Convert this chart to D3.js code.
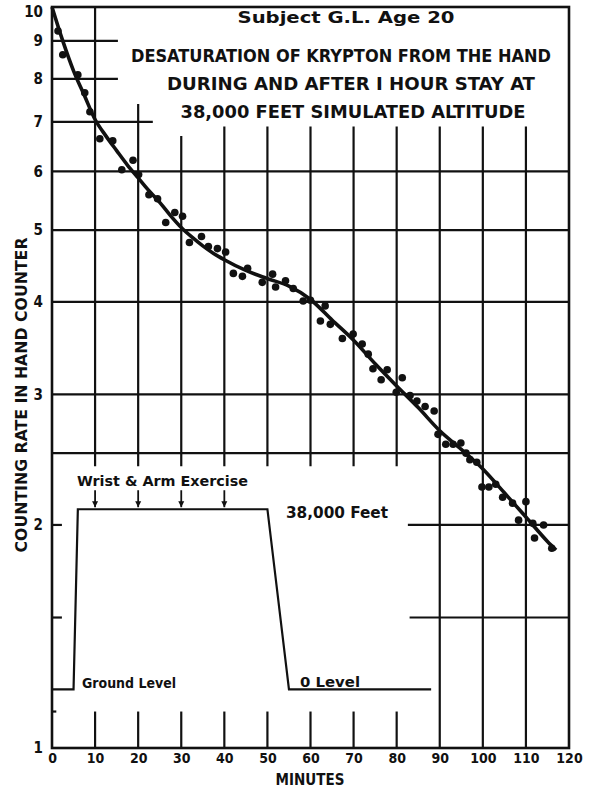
<!DOCTYPE html>
<html>
<head>
<meta charset="utf-8">
<script src="https://d3js.org/d3.v7.min.js"></script>
<style>
    body { margin: 0; background: #fff; }
    text { font-family: "DejaVu Sans Condensed", "Liberation Sans Narrow", "DejaVu Sans", sans-serif; font-weight: bold; fill: #111; }
</style>
</head>
<body>
<svg id="grafico"></svg>
<script>
// puntos medidos (minutos, cuentas)
const minutos = [1.4, 2.5, 6.0, 7.6, 8.8, 11.1, 14.1, 16.2, 18.8, 20.1, 22.5, 24.5, 26.4, 28.5, 30.3,
    31.9, 34.7, 36.3, 38.4, 40.3, 42.1, 44.2, 45.4, 48.8, 51.2, 51.9, 54.2, 56.0, 58.3, 60.0,
    62.3, 63.4, 64.6, 67.4, 69.9, 72.0, 73.4, 74.5, 76.4, 77.8, 79.9, 81.3, 83.1, 84.7, 86.6,
    88.7, 89.6, 91.4, 93.1, 94.9, 96.1, 97.0, 98.6, 99.8, 101.4, 103.0, 104.6, 106.9, 108.3,
    110.0, 111.6, 112.0, 114.1, 116.0];
const cuentas = [9.28, 8.62, 8.10, 7.66, 7.22, 6.64, 6.60, 6.03, 6.21, 5.94, 5.58, 5.51, 5.12, 5.28, 5.22,
    4.81, 4.90, 4.75, 4.72, 4.67, 4.37, 4.33, 4.44, 4.25, 4.36, 4.19, 4.27, 4.17, 4.01, 4.02,
    3.77, 3.95, 3.73, 3.57, 3.62, 3.51, 3.40, 3.25, 3.14, 3.24, 3.02, 3.16, 2.99, 2.94, 2.89,
    2.85, 2.65, 2.57, 2.57, 2.58, 2.50, 2.45, 2.43, 2.25, 2.25, 2.27, 2.18, 2.14, 2.03,
    2.15, 2.01, 1.92, 2.00, 1.86];

// curva ajustada
const curvaMin = [0, 2.5, 5, 7.5, 10, 12.5, 15, 17.5, 20, 22.5, 25, 27.5, 30, 32.5, 35, 37.5, 40, 45, 50, 55, 60,
    65, 70, 75, 80, 85, 90, 95, 100, 105, 110, 115, 117];
const curvaVal = [10, 9.0, 8.2, 7.6, 7.05, 6.7, 6.4, 6.12, 5.88, 5.65, 5.45, 5.23, 5.04, 4.89, 4.76, 4.65, 4.56, 4.41, 4.30, 4.20, 4.03,
    3.78, 3.55, 3.30, 3.08, 2.88, 2.68, 2.53, 2.38, 2.21, 2.05, 1.90, 1.85];

// perfil de altitud (esquema)
const perfilMin = [0, 5, 6, 50, 55, 88];
const perfilVal = [1.2, 1.2, 2.1, 2.1, 1.2, 1.2];
const ejercicioMin = [10, 20, 30, 40];

const xTicks = [0, 10, 20, 30, 40, 50, 60, 70, 80, 90, 100, 110, 120];
const yTicks = [1, 2, 3, 4, 5, 6, 7, 8, 9, 10];

// rejilla: lineas horizontales [valor, desde, hasta]
const rejillaH = [[9, 0, 15.3], [8, 0, 15.3], [7, 0, 23.4], [6, 0, 120], [5, 0, 120], [4, 0, 120],
    [3, 0, 120], [2.5, 0, 120], [2, 0, 2.3], [2, 82.6, 120], [1.5, 0, 2.3], [1.5, 83, 120], [1.12, 0, 1]];
// rejilla: lineas verticales [minuto, desde, hasta]
const rejillaV = [[10, 10, 2.4], [20, 7.4, 2.4], [30, 6.7, 2.4], [40, 6.9, 2.4], [50, 6.9, 2.4],
    [60, 6.9, 2.4], [70, 6.9, 2.4], [80, 6.9, 2.4], [90, 6.9, 1], [100, 6.9, 1], [110, 6.9, 1],
    [10, 1.12, 1], [20, 1.12, 1], [30, 1.12, 1], [40, 1.12, 1], [50, 1.12, 1], [60, 1.12, 1],
    [70, 1.12, 1], [80, 1.12, 1]];

const ancho = 589;
const alto = 788;

const svg = d3.select('#grafico').attr('width', ancho).attr('height', alto);

svg.append('rect').attr('width', ancho).attr('height', alto).attr('fill', '#fff');

const miEscalaX = d3.scaleLinear().domain([0, 120]).range([52, 569]);
const miEscalaY = d3.scaleLog().domain([1, 10]).range([748, 7]);

// rejilla
svg.append('g').selectAll('line')
    .data(rejillaH).enter()
    .append('line')
    .attr('x1', d => miEscalaX(d[1]))
    .attr('x2', d => miEscalaX(d[2]))
    .attr('y1', d => miEscalaY(d[0]))
    .attr('y2', d => miEscalaY(d[0]))
    .attr('stroke', '#111')
    .attr('stroke-width', 2.2);

svg.append('g').selectAll('line')
    .data(rejillaV).enter()
    .append('line')
    .attr('x1', d => miEscalaX(d[0]))
    .attr('x2', d => miEscalaX(d[0]))
    .attr('y1', d => miEscalaY(d[1]))
    .attr('y2', d => miEscalaY(d[2]))
    .attr('stroke', '#111')
    .attr('stroke-width', 2.2);

// marco
svg.append('rect')
    .attr('x', miEscalaX(0))
    .attr('y', miEscalaY(10))
    .attr('width', miEscalaX(120) - miEscalaX(0))
    .attr('height', miEscalaY(1) - miEscalaY(10))
    .attr('fill', 'none')
    .attr('stroke', '#111')
    .attr('stroke-width', 2.6);

// ejes
let xMiEje = d3.axisBottom(miEscalaX).tickValues(xTicks).tickSize(0).tickPadding(5);
svg.append('g')
    .attr('id', 'xMiEje')
    .attr('transform', 'translate(0,' + miEscalaY(1) + ')')
    .call(xMiEje)
    .call(g => g.select('.domain').remove())
    .selectAll('text')
    .style('font-size', '14px')
    .style('font-family', '"DejaVu Sans Condensed", "DejaVu Sans", sans-serif')
    .attr('fill', '#111');

let yMiEje = d3.axisLeft(miEscalaY).tickValues(yTicks).tickFormat(d3.format('d')).tickSize(0).tickPadding(9);
svg.append('g')
    .attr('id', 'yMiEje')
    .attr('transform', 'translate(' + miEscalaX(0) + ',0)')
    .call(yMiEje)
    .call(g => g.select('.domain').remove())
    .selectAll('text')
    .style('font-size', '15px')
    .style('font-family', '"DejaVu Sans Condensed", "DejaVu Sans", sans-serif')
    .attr('fill', '#111')
    .attr('dy', d => d === 10 ? '0.6em' : '0.32em');

svg.append('text')
    .attr('x', 310).attr('y', 785)
    .attr('text-anchor', 'middle')
    .style('font-size', '15px')
    .text('MINUTES');

svg.append('text')
    .attr('transform', 'translate(27,395) rotate(-90)')
    .attr('text-anchor', 'middle')
    .attr('textLength', 315)
    .attr('lengthAdjust', 'spacingAndGlyphs')
    .style('font-size', '16px')
    .text('COUNTING  RATE  IN  HAND  COUNTER');

// titulo
const titulo = [
    ['Subject  G.L.    Age  20', 346, 23, 15, 217],
    ['DESATURATION  OF  KRYPTON  FROM  THE  HAND', 341, 62, 17, 420],
    ['DURING  AND  AFTER  I  HOUR  STAY  AT', 351, 90, 17, 368],
    ['38,000  FEET  SIMULATED  ALTITUDE', 353, 118, 17, 345]
];
svg.append('g').selectAll('text')
    .data(titulo).enter()
    .append('text')
    .attr('x', d => d[1])
    .attr('y', d => d[2])
    .attr('text-anchor', 'middle')
    .attr('textLength', d => d[4])
    .attr('lengthAdjust', 'spacingAndGlyphs')
    .style('font-size', d => d[3] + 'px')
    .text(d => d[0]);

// perfil de altitud
let perfilLinea = d3.line()
    .x((d, i) => miEscalaX(perfilMin[i]))
    .y(d => miEscalaY(d));
svg.append('path')
    .attr('d', perfilLinea(perfilVal))
    .attr('fill', 'none')
    .attr('stroke', '#111')
    .attr('stroke-width', 2.2);

svg.append('defs').append('marker')
    .attr('id', 'flecha')
    .attr('viewBox', '0 0 10 10')
    .attr('refX', 10).attr('refY', 5)
    .attr('markerWidth', 6).attr('markerHeight', 7)
    .attr('markerUnits', 'userSpaceOnUse')
    .attr('orient', 'auto')
    .append('path')
    .attr('d', 'M0,0 L10,5 L0,10 Z')
    .attr('fill', '#111');

svg.append('g').selectAll('line')
    .data(ejercicioMin).enter()
    .append('line')
    .attr('x1', d => miEscalaX(d))
    .attr('x2', d => miEscalaX(d))
    .attr('y1', miEscalaY(2.1) - 19)
    .attr('y2', miEscalaY(2.1) - 2)
    .attr('stroke', '#111')
    .attr('stroke-width', 1.8)
    .attr('marker-end', 'url(#flecha)');

svg.append('text').attr('x', 77).attr('y', 486)
    .attr('textLength', 171).attr('lengthAdjust', 'spacingAndGlyphs')
    .style('font-size', '14px').text('Wrist & Arm Exercise');
svg.append('text').attr('x', 286).attr('y', 518)
    .attr('textLength', 102).attr('lengthAdjust', 'spacingAndGlyphs')
    .style('font-size', '15px').text('38,000 Feet');
svg.append('text').attr('x', 82).attr('y', 688)
    .attr('textLength', 94).attr('lengthAdjust', 'spacingAndGlyphs')
    .style('font-size', '14px').text('Ground Level');
svg.append('text').attr('x', 300).attr('y', 687)
    .attr('textLength', 60).attr('lengthAdjust', 'spacingAndGlyphs')
    .style('font-size', '14px').text('0 Level');

// curva
let curva = d3.line()
    .x((d, i) => miEscalaX(curvaMin[i]))
    .y(d => miEscalaY(d))
    .curve(d3.curveMonotoneX);
svg.append('path')
    .attr('class', 'path-line')
    .attr('d', curva(curvaVal))
    .attr('fill', 'none')
    .attr('stroke', '#111')
    .attr('stroke-width', 3.6);

// puntos
svg.append('g').selectAll('circle')
    .data(cuentas).enter()
    .append('circle')
    .attr('class', 'points')
    .attr('r', 3.8)
    .attr('cx', (d, i) => miEscalaX(minutos[i]))
    .attr('cy', d => miEscalaY(d))
    .attr('fill', '#111');
</script>
</body>
</html>
